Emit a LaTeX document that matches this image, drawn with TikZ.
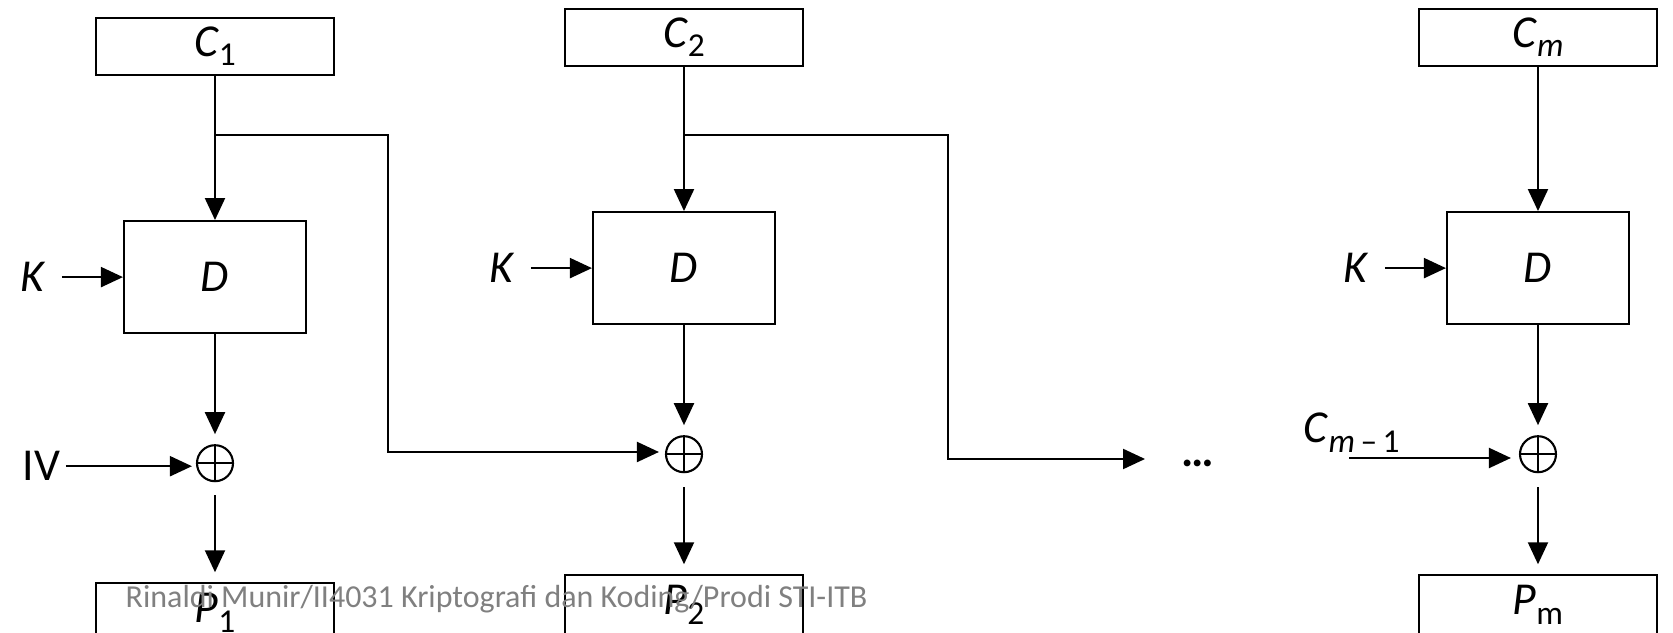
\documentclass[tikz,border=0pt]{standalone}
\usepackage{fontspec}
\setmainfont{Carlito}
\usepackage{tikz}
\usetikzlibrary{shapes.geometric,arrows.meta,positioning,calc}
\definecolor{creditgray}{RGB}{128,128,128}
\newcommand{\vsub}[2]{\textit{#1}\raisebox{-2.6pt}{\fontsize{9.5}{10}\selectfont #2}}

\begin{document}
\begin{tikzpicture}[
  font=\fontsize{13}{15}\selectfont,
  blk/.style={rectangle,draw,line width=0.6pt,inner sep=0pt,minimum width=2.38cm,minimum height=0.57cm},
  pblk/.style={blk,minimum height=0.59cm},
  dec/.style={blk,minimum width=1.82cm,minimum height=1.12cm},
  xo/.style={circle,draw,line width=0.6pt,inner sep=0pt,minimum size=0.36cm,
    path picture={\draw[line width=0.5pt] (path picture bounding box.north) -- (path picture bounding box.south)
      (path picture bounding box.west) -- (path picture bounding box.east);}},
  arr/.style={-{Triangle[length=2.2mm,width=2mm]},line width=0.6pt},
  lbl/.style={inner sep=0pt},
  credit/.style={inner sep=0pt,text=creditgray,font=\fontsize{9.1}{10}\selectfont}
]
\useasboundingbox (0,0) rectangle (16.73,-6.33);

% first block
\node[blk] (c1) at (2.15,-0.465) {\vsub{C}{1}};
\node[dec,below=1.44cm of c1] (d1) {\textit{D}};
\node[xo,below=1.10cm of d1] (x1) {};
\node[pblk,below=1.00cm of x1] (p1) {\vsub{P}{1}};
\node[lbl,left=0.77cm of d1] (k1) {\textit{K}};
\node[lbl,left=1.35cm of x1,yshift=-0.03cm] (iv) {IV};

% second block
\node[blk] (c2) at (6.84,-0.375) {\vsub{C}{2}};
\node[dec,below=1.44cm of c2] (d2) {\textit{D}};
\node[xo,below=1.10cm of d2] (x2) {};
\node[pblk,below=1.01cm of x2] (p2) {\vsub{P}{2}};
\node[lbl,left=0.77cm of d2] (k2) {\textit{K}};

% last block
\node[blk] (cm) at (15.38,-0.375) {\vsub{C}{\textit{m}}};
\node[dec,below=1.44cm of cm] (dm) {\textit{D}};
\node[xo,below=1.10cm of dm] (xm) {};
\node[pblk,below=1.01cm of xm] (pm) {\vsub{P}{m}};
\node[lbl,left=0.77cm of dm] (km) {\textit{K}};
\node[lbl] (dots) at (11.98,-4.63) {\textbf{\dots}};
\node[lbl,anchor=base west] (cprev) at (13.03,-4.43) {\vsub{C}{\textit{m}\,–\,1}};

\coordinate (j1) at ($(c1.south)+(0,-0.59)$);
\coordinate (j2) at ($(c2.south)+(0,-0.68)$);
\coordinate (b1) at (3.88,-4.52);
\coordinate (b2) at (9.48,-4.59);
\coordinate (cin) at (13.49,-4.58);

\draw[arr] (c1) -- (d1);
\draw[arr,shorten >=0.1cm] (d1) -- (x1);
\draw[arr,shorten <=0.13cm,shorten >=0.1cm] (x1) -- (p1);
\draw[arr,shorten <=0.16cm] (k1) -- (d1);
\draw[arr,shorten <=0.05cm,shorten >=0.04cm] (iv) -- (iv -| x1.west);

\draw[arr] (c2) -- (d2);
\draw[arr,shorten >=0.1cm] (d2) -- (x2);
\draw[arr,shorten <=0.14cm,shorten >=0.1cm] (x2) -- (p2);
\draw[arr,shorten <=0.16cm] (k2) -- (d2);

\draw[arr] (cm) -- (dm);
\draw[arr,shorten >=0.1cm] (dm) -- (xm);
\draw[arr,shorten <=0.14cm,shorten >=0.1cm] (xm) -- (pm);
\draw[arr,shorten <=0.16cm] (km) -- (dm);

% feedback lines
\draw[arr,shorten >=0.06cm] (j1) -| (b1) -- (b1 -| x2.west);
\draw[arr,shorten >=0.36cm] (j2) -| (b2) -- (b2 -| dots.west);
\draw[arr,shorten >=0.08cm] (cin) -- (cin -| xm.west);

\node[credit,anchor=base west] (src) at (1.25,-6.08) {Rinaldi Munir/II4031 Kriptografi dan Koding/Prodi STI-ITB};
\end{tikzpicture}
\end{document}
